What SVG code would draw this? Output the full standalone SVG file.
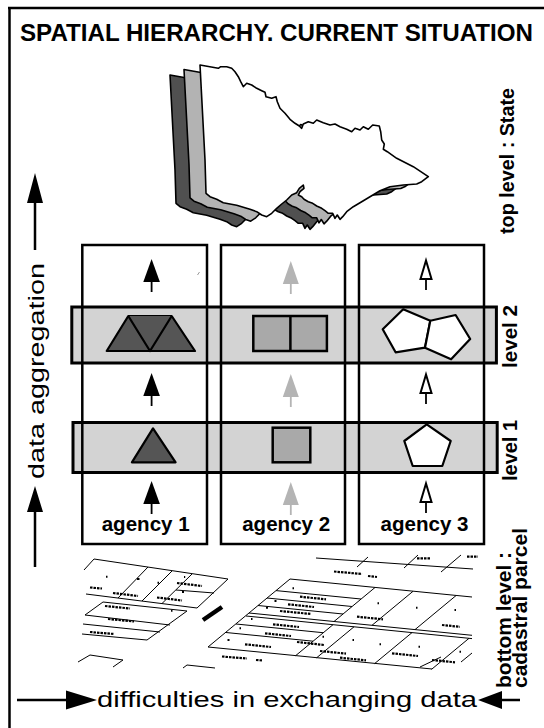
<svg xmlns="http://www.w3.org/2000/svg" width="544" height="728" viewBox="0 0 544 728">
<style>
 .t{font-family:"Liberation Sans",Arial,sans-serif;fill:#000}
 .b{font-weight:bold}
 .frame{fill:none;stroke:#000;stroke-width:2.5}
 .boxbg{fill:#fff;stroke:none}
 .box{fill:none;stroke:#000;stroke-width:2.5}
 .band{fill:#d3d3d3;stroke:none}
 .bandline{fill:none;stroke:#000;stroke-width:3}
 .dk{fill:#555;stroke:#000;stroke-width:2.2;stroke-linejoin:round}
 .md{fill:#a9a9a9;stroke:#000;stroke-width:2.5}
 .wh{fill:#fff;stroke:#000;stroke-width:2.2;stroke-linejoin:round}
 .map{stroke:#000;stroke-width:1.6;stroke-linejoin:round}
 .pl{fill:none;stroke:#000;stroke-width:1}
 .lb{fill:none;stroke:#000;stroke-width:2.2;stroke-dasharray:2.5 1}
 .dt{fill:none;stroke:#000;stroke-width:2}
 .shaft{fill:none;stroke:#000;stroke-width:2.5}
</style>
<defs>
 <path id="vic" d="M200,65 L218.3,68.3 L220.7,66.7 L226.7,66.7 L231.7,68.3 L235,71.7 L238.3,76.7 L240.7,81.7 L243.3,86.7 L246.7,83.3 L251.7,85 L256.7,88.3 L261.7,90.7 L265,92.3 L266,96.7 L271.7,98.3 L276,96.7 L277.3,101.7 L280,108.3 L285,113.3 L290,119.3 L295,123.3 L299.3,126 L301.7,128.3 L303.3,124 L308.3,121.7 L313.3,123.3 L316.7,120 L323.3,122.7 L330,125 L335,124 L340,126.7 L346.7,129.3 L351.7,131.7 L355,128.3 L360,130 L363.3,126.7 L368.3,129.3 L372.7,125 L379.3,126 L380.7,131.7 L381.7,140 L384.3,144 L383.3,149.3 L387.3,151.7 L396.7,158.3 L413.3,166.7 L428.3,176.7 L421.7,181.7 L416.7,184 L403.3,185 L390,186.7 L380,190.7 L370,196.7 L361.7,201.7 L353.3,206.7 L346.7,211.7 L342.7,216.7 L340,219.3 L337.3,215 L335,218.3 L332.7,213.3 L328.3,213.3 L325,210.7 L321.7,208.3 L316.7,206 L312.7,203.3 L308.3,201.7 L304,199.3 L301.7,196.7 L298.3,195 L300,191.7 L304,188.3 L303.3,185 L299.3,188.3 L296.7,192.7 L291.7,195 L286.7,200 L281.7,204 L276.7,208.3 L271.7,213.3 L266.7,216.7 L261.7,215 L256.7,211.7 L250,209.3 L243.3,207.3 L236.7,205.3 L230,204 L223.3,202.7 L216.7,199.3 L210,196.7 L206,193.3 L205,160 Z"/>
 <g id="arB"><path d="M0,0 L-8.3,23 L8.3,23 Z" fill="#000"/><path d="M0,22 V33" stroke="#000" stroke-width="1.8"/></g>
 <g id="arG"><path d="M0,0 L-8,23 L8,23 Z" fill="#b4b4b4"/><path d="M0,22 V33" stroke="#b4b4b4" stroke-width="1.8"/></g>
 <g id="arH"><path d="M0,1.5 L-5.5,20 L5.5,20 Z" fill="#fff" stroke="#000" stroke-width="2"/><path d="M0,21 V31" stroke="#000" stroke-width="1.8"/></g>
</defs>

<g id="frame">
 <path class="frame" d="M8,8 H544 M9.5,8 V728"/>
</g>

<g id="title">
 <text class="t b" x="20" y="41" font-size="24" textLength="513" lengthAdjust="spacingAndGlyphs">SPATIAL HIERARCHY. CURRENT SITUATION</text>
</g>

<g id="state-map">
 <use href="#vic" transform="translate(-30,10)" fill="#505050" class="map"/>
 <use href="#vic" transform="translate(-16,4.5)" fill="#b3b3b3" class="map"/>
 <use href="#vic" fill="#fff" class="map"/>
</g>

<g id="agency-boxes">
 <rect class="boxbg" x="82.3" y="245" width="124.7" height="299"/>
 <rect class="boxbg" x="221" y="245" width="124" height="299"/>
 <rect class="boxbg" x="359" y="245" width="125" height="299"/>
</g>

<g id="level2-band">
 <rect class="band" x="71.8" y="307" width="424.6" height="56"/>
</g>
<g id="level1-band">
 <rect class="band" x="73" y="422.5" width="424.2" height="50"/>
</g>

<g id="agency1"><rect class="box" x="82.3" y="245" width="124.7" height="299"/></g>
<g id="agency2"><rect class="box" x="221" y="245" width="124" height="299"/></g>
<g id="agency3"><rect class="box" x="359" y="245" width="125" height="299"/></g>

<g id="band-outlines">
 <rect class="bandline" x="71.8" y="307" width="424.6" height="56"/>
 <rect class="bandline" x="73" y="422.5" width="424.2" height="50"/>
</g>

<g id="level2-shapes">
 <path class="dk" d="M106.7,351 L128.3,316 L171.7,316 L195,351 Z"/>
 <path class="dk" fill="none" d="M128.3,316 L150,351 L171.7,316"/>
 <rect class="md" x="253.3" y="316" width="73.6" height="35"/>
 <path class="md" d="M290.4,316 V351"/>
 <path class="wh" d="M403.2,309.3 L430.3,320.7 L425,347.7 L395.6,352.3 L382.7,329.3 Z"/>
 <path class="wh" d="M430.3,320.7 L455.6,315 L470.2,339 L451.1,359.3 L425,347.7 Z"/>
</g>

<g id="level1-shapes">
 <path class="dk" d="M153,428.3 L131.9,462.3 L175.6,462.3 Z"/>
 <rect class="md" x="272.7" y="427.7" width="37.6" height="34.6"/>
 <path class="wh" d="M426.7,424.3 L450.7,441 L442.3,466 L412.7,466 L404.3,441 Z"/>
</g>

<g id="connectors">
 <use href="#arB" x="151.6" y="259"/>
 <use href="#arB" x="151.6" y="373"/>
 <use href="#arB" x="151.6" y="481"/>
 <use href="#arG" x="290.8" y="261"/>
 <use href="#arG" x="290.8" y="374"/>
 <use href="#arG" x="290.8" y="482"/>
 <use href="#arH" x="426" y="259"/>
 <use href="#arH" x="426" y="373"/>
 <use href="#arH" x="426" y="482"/>
 <path d="M197.5,275 L199.5,272" stroke="#999" stroke-width="1"/>
 <path class="shaft" d="M35,203 V250 M35,512 V567"/>
 <path d="M35,173 L27,203 L43,203 Z M35,486 L27,512 L43,512 Z" fill="#000"/>
 <path class="shaft" d="M17,700 H66 M502,700 H520"/>
 <path d="M97,700 L66,690.5 L66,709.5 Z M478,700 L502,691 L502,709 Z" fill="#000"/>
</g>

<g id="agency-labels">
 <text class="t b" x="145.7" y="531" font-size="21" text-anchor="middle" textLength="88" lengthAdjust="spacingAndGlyphs">agency 1</text>
 <text class="t b" x="286.2" y="531" font-size="21" text-anchor="middle" textLength="88" lengthAdjust="spacingAndGlyphs">agency 2</text>
 <text class="t b" x="424.5" y="531" font-size="21" text-anchor="middle" textLength="88" lengthAdjust="spacingAndGlyphs">agency 3</text>
</g>

<g id="side-labels">
 <text class="t" transform="translate(44,479) rotate(-90)" font-size="22" textLength="216" lengthAdjust="spacingAndGlyphs">data aggregation</text>
 <text class="t b" transform="translate(514,234) rotate(-90)" font-size="20" textLength="146" lengthAdjust="spacingAndGlyphs">top level : State</text>
 <text class="t b" transform="translate(517,368) rotate(-90)" font-size="20" textLength="63" lengthAdjust="spacingAndGlyphs">level 2</text>
 <text class="t b" transform="translate(517,481) rotate(-90)" font-size="20" textLength="61" lengthAdjust="spacingAndGlyphs">level 1</text>
 <text class="t b" transform="translate(511,688) rotate(-90)" font-size="21" textLength="136" lengthAdjust="spacingAndGlyphs">bottom level :</text>
 <text class="t b" transform="translate(527,688) rotate(-90)" font-size="21" textLength="160" lengthAdjust="spacingAndGlyphs">cadastral parcel</text>
 <text class="t" x="97" y="707" font-size="22" textLength="380" lengthAdjust="spacingAndGlyphs">difficulties in exchanging data</text>
</g>

<g id="cadastral-map">
 <path class="pl" d="M84,570 L94,559 L228,579 L197,608 M148,567 L118,598 M172,571 L142,601 M192,574 L162,603.5 M176,590 L214,593 M86,594 L197,608 M103,602 L187,611 L147,640 M103,602 L85,615 L170,625 M83,624 L160,632 M82,634 L147,640 M78,662 L90,655 L123,660 L113,667 M183,668 L187,665 L215,668"/>
 <path class="pl" d="M316,558 L473,569 M357,567 L368,557 M404,568 L418,555 M441,572 L461,555 M290,579 L472,597 M290,579 L208,647 L432,669 M375,587.5 L334,621.5 M413,591.3 L372,625.3 M456,595.6 L415,629.6 M249,613 L472,635.3 M246,616 L472,638.6 M276,590.6 L361,599 M267,598 L352,606.5 M258,605.5 L343,614 M333,624.7 L295.6,655.7 M354,626.8 L316.6,657.8 M412,632.6 L374.6,663.6 M469,638.3 L431.6,669.3 M236,624 L323,632.7 M226,632.5 L313,641.2 M420,667 L441,657 M461,662 L472,653"/>
 <path class="lb" d="M90,587.5 L102,588.5 M113,593 L138,596 M157,597.5 L182,600.5 M177,583 L202,586 M105,606 L130,608.5 M108,619 L134,621.5 M90,632 L114,634 M300,596.7 L326,599.3 M288,604.3 L314,607 M280,611 L311,614 M273,624.3 L299,627 M265,633.3 L291,636 M245,644.3 L271,647 M297,642 L324,645 M320,651 L346,653.6 M340,657.7 L366,660.3 M392,653.3 L418,656 M432,660 L455,662.3 M357,616.7 L383,619.3 M442,625 L460,626.8 M417,558.3 L430,558.3 M467,556.7 L478,556.7 M334,571.5 L362,574 M368,576 L377,577 M222,656.5 L247,658.5 M256,660 L263,660.5"/>
 <path class="dt" d="M106,576.7 h1.5 M137,579 h2.5 M157.5,582.7 h1.5 M171,610.7 h1.5 M184,577 h1.2 M182,592 h2 M292.5,588.3 h1.5 M377.5,603.3 h1.5 M416,607.7 h1.5 M454.5,610 h1.5 M251,619 h1.5 M239.5,628.3 h1.5 M227.5,640 h2 M322.5,636.7 h1.5 M352.5,640 h1.5 M379.5,644.3 h1.5 M418.5,646.7 h1.5 M459.5,651.7 h1.5 M274.5,601 h2 M266,607.7 h2"/>
 <path d="M203,620 L222,607" stroke="#000" stroke-width="4.5" fill="none"/>
</g>
</svg>
